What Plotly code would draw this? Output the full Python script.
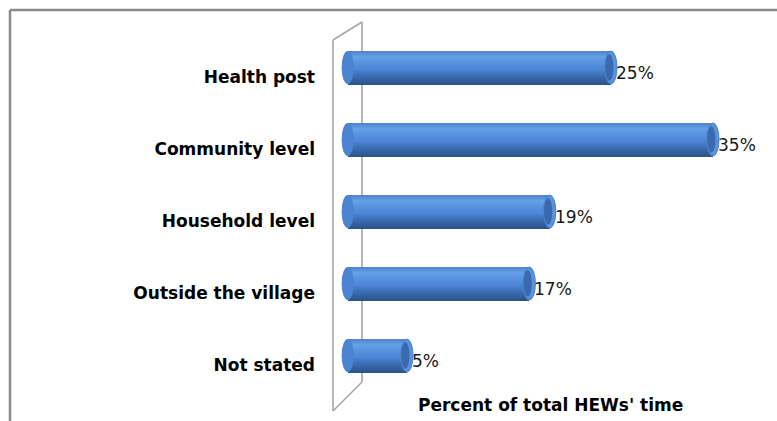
import plotly.graph_objects as go

# Share of HEWs' time by place of work
categories = ["Health post", "Community level", "Household level",
              "Outside the village", "Not stated"]
values = [25, 35, 19, 17, 5]
value_labels = ["25%", "35%", "19%", "17%", "5%"]
axis_title = "Percent of total HEWs' time"

# figure geometry (pixels)
FIG_W, FIG_H = 777, 421
M_L, M_R, M_T, M_B = 331, 7, 41, 20
PLOT_W = FIG_W - M_L - M_R
PLOT_H = FIG_H - M_T - M_B
PX_PER_UNIT = 10.2
ZERO_PX = 362
X0 = -(ZERO_PX - M_L) / PX_PER_UNIT
X1 = X0 + PLOT_W / PX_PER_UNIT


def px_x(px):
    return (px - M_L) / PLOT_W


def px_y(py):
    return (FIG_H - M_B - py) / PLOT_H


def data_x(px):
    return (px - ZERO_PX) / PX_PER_UNIT


def mix(c1, c2, t):
    a = [int(c1[i:i + 2], 16) for i in (1, 3, 5)]
    b = [int(c2[i:i + 2], 16) for i in (1, 3, 5)]
    return "#%02X%02X%02X" % tuple(round(x + (y - x) * t) for x, y in zip(a, b))


# 3-D cylinder look
DEPTH = 2.0          # how far the cylinder reaches in front of the back wall
CAP = 0.6            # half-width of the elliptical end caps (x units)
THICK = 0.458        # bar thickness (category units)
LIFT = 0.132         # bars sit slightly above their labels (perspective)

positions = list(range(len(categories) - 1, -1, -1))
base = -DEPTH + CAP
lengths = [v - CAP - base for v in values]

# shading stops from bottom (shadow) to top (rim) of the cylinder
stops = [(0.0, "#2A528A"), (0.15, "#33609F"), (0.45, "#4A84D2"),
         (0.72, "#5C96E2"), (0.86, "#66A0EA"), (1.0, "#4F83C8")]
n = 22
band_colors = []
for k in range(n):
    t = (k + 0.5) / n
    for (t0, c0), (t1, c1) in zip(stops, stops[1:]):
        if t0 <= t <= t1:
            band_colors.append(mix(c0, c1, (t - t0) / (t1 - t0)))
            break
band_h = THICK / n
bottom_off = LIFT - THICK / 2

fig = go.Figure()
for i, col in enumerate(band_colors):
    fig.add_trace(go.Bar(
        y=positions, x=lengths, base=base, orientation="h",
        width=band_h * 1.3, offset=bottom_off + i * band_h - band_h * 0.15,
        marker=dict(color=col, line=dict(width=0)),
        showlegend=False, hoverinfo="skip"))

shapes = []
# back wall of the 3-D plot (drawn behind the bars)
front_x, back_x = data_x(333), 0
wall = dict(type="line", line=dict(color="#A6A6A6", width=1.6), layer="below")
shapes.append(dict(wall, xref="x", yref="paper", x0=front_x, x1=front_x,
                   y0=px_y(40), y1=px_y(411)))
shapes.append(dict(wall, xref="x", yref="paper", x0=back_x, x1=back_x,
                   y0=px_y(22), y1=px_y(382)))
shapes.append(dict(wall, xref="x", yref="paper", x0=front_x, x1=back_x,
                   y0=px_y(40), y1=px_y(22)))
shapes.append(dict(wall, xref="x", yref="paper", x0=front_x, x1=back_x,
                   y0=px_y(411), y1=px_y(382)))

# outer frame
frame = dict(type="line", line=dict(color="#8A8A8A", width=2.5),
             xref="paper", yref="paper", layer="above")
shapes.append(dict(frame, x0=px_x(10), x1=px_x(FIG_W + 5),
                   y0=px_y(10), y1=px_y(10)))
shapes.append(dict(frame, x0=px_x(10), x1=px_x(10),
                   y0=px_y(10), y1=px_y(FIG_H + 5)))

# rounded left ends and elliptical right caps
for p, v in zip(positions, values):
    lo, hi = p + bottom_off, p + bottom_off + THICK
    shapes.append(dict(type="circle", xref="x", yref="y", layer="above",
                       x0=base - CAP, x1=base + CAP, y0=lo, y1=hi,
                       fillcolor="#4A84D2", line=dict(width=0)))
    shapes.append(dict(type="circle", xref="x", yref="y", layer="above",
                       x0=v - 2 * CAP, x1=v, y0=lo, y1=hi,
                       fillcolor="#5B92DC", line=dict(color="#4A80CC", width=1)))
    shapes.append(dict(type="circle", xref="x", yref="y", layer="above",
                       x0=v - 2 * CAP + 0.05, x1=v - 0.35,
                       y0=lo + THICK * 0.1, y1=hi - THICK * 0.1,
                       fillcolor="#3A69AE", line=dict(width=0)))

annotations = []
for p, v, t in zip(positions, values, value_labels):
    annotations.append(dict(x=v, y=p, xref="x", yref="y", text=t,
                            showarrow=False, xanchor="left", yanchor="middle",
                            xshift=-3, yshift=4,
                            font=dict(family="DejaVu Sans", size=17,
                                      color="#1A1A1A")))
annotations.append(dict(x=px_x(550), y=px_y(405), xref="paper", yref="paper",
                        text="<b>" + axis_title + "</b>", showarrow=False,
                        xanchor="center", yanchor="middle",
                        font=dict(family="DejaVu Sans", size=17, color="#000")))

fig.update_layout(
    width=FIG_W, height=FIG_H,
    margin=dict(l=M_L, r=M_R, t=M_T, b=M_B, pad=0),
    paper_bgcolor="white", plot_bgcolor="white",
    barmode="overlay", bargap=0,
    shapes=shapes, annotations=annotations,
    xaxis=dict(range=[X0, X1], visible=False, fixedrange=True),
    yaxis=dict(range=[-0.5, len(categories) - 0.5],
               tickvals=positions,
               ticktext=["<b>" + c + "</b>" for c in categories],
               tickfont=dict(family="DejaVu Sans", size=17, color="#000"),
               ticks="", showgrid=False, zeroline=False, showline=False,
               ticklabelstandoff=15, fixedrange=True),
)

fig.write_html("out.html", config={"displayModeBar": False})
